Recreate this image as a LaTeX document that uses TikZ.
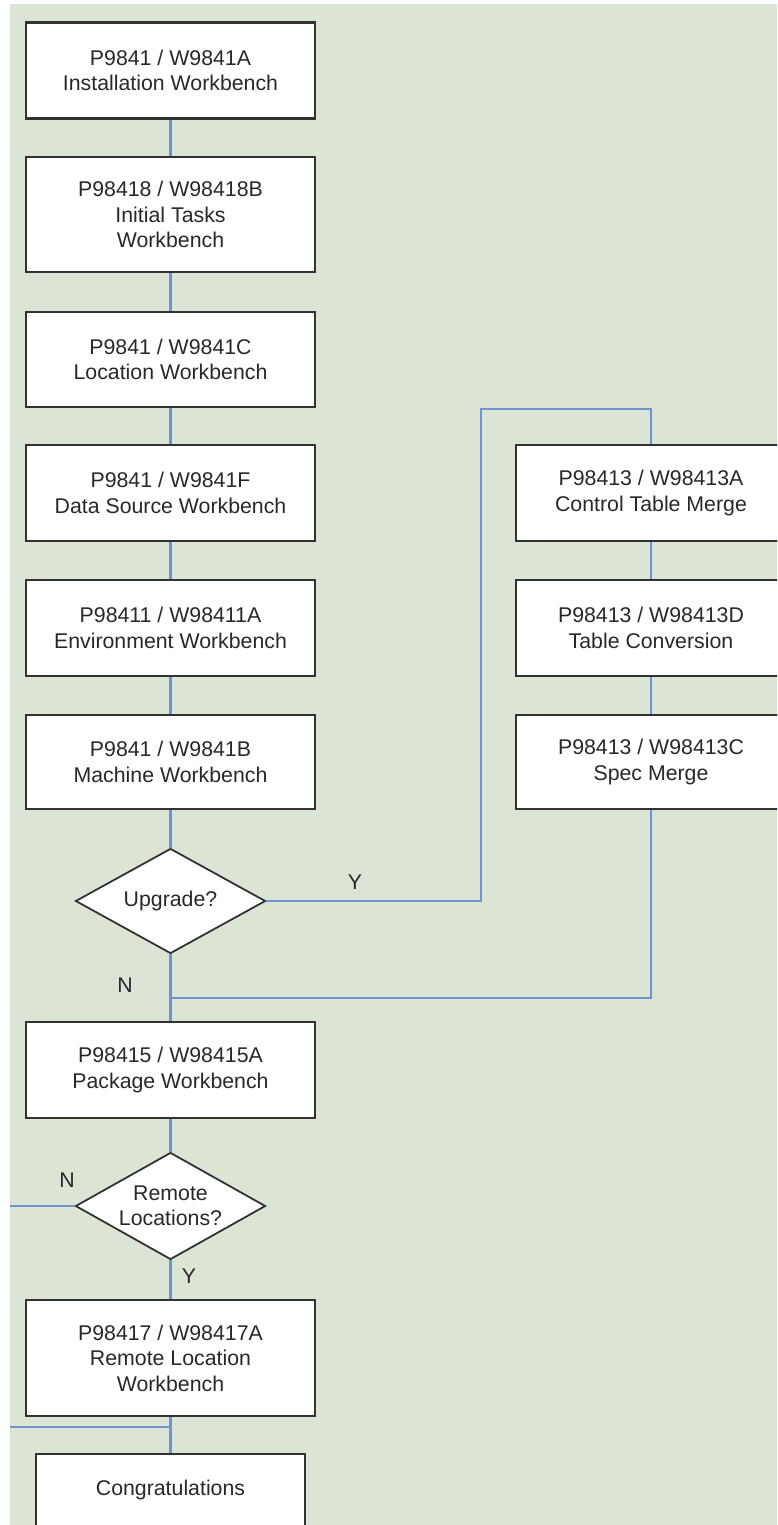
\documentclass[tikz,border=0pt]{standalone}
\usepackage{fontspec}
\setmainfont{Liberation Sans}
\usetikzlibrary{shapes.geometric}
\definecolor{bggreen}{RGB}{220,229,213}
\definecolor{linkblue}{RGB}{108,148,205}
\definecolor{txtgray}{RGB}{40,40,40}
\definecolor{bordergray}{RGB}{50,50,50}
\newcommand{\boxfont}{\fontsize{21.3}{25.5}\selectfont}
\tikzset{
  procbox/.style={draw=bordergray, line width=2.2pt, fill=white, minimum width=289pt,
    minimum height=96pt, align=center, text=txtgray, font=\boxfont, inner sep=0pt},
  rightbox/.style={procbox, minimum width=270pt},
  decision/.style={draw=bordergray, line width=1.8pt, fill=white, diamond,
    minimum width=190pt, minimum height=105pt, inner sep=0pt},
  dectext/.style={align=center, text=txtgray, font=\boxfont, inner sep=0pt},
  lbl/.style={text=txtgray, font=\boxfont, inner sep=0pt},
  link/.style={draw=linkblue, line width=2.5pt}
}
\begin{document}
\begin{tikzpicture}[x=1pt,y=-1pt]
\useasboundingbox (0,0) rectangle (777,1525);
\clip (0,0) rectangle (777,1525);
\fill[white] (0,0) rectangle (777,1525);
\fill[bggreen] (10,4) rectangle (777,1525);

% coordinates
\coordinate (c1) at (481,409);
\coordinate (m1) at (170.5,998);
\coordinate (e1) at (10,1206);
\coordinate (e2) at (10,1427);
\coordinate (j2) at (170.5,1427);

% left column
\node[procbox] (b1) at (170.5,70.5) {P9841 / W9841A\\Installation Workbench};
\node[procbox, minimum height=115pt] (b2) at (170.5,214.5) {P98418 / W98418B\\Initial Tasks\\Workbench};
\node[procbox, minimum height=95pt] (b3) at (170.5,359.5) {P9841 / W9841C\\Location Workbench};
\node[procbox] (b4) at (170.5,493) {P9841 / W9841F\\Data Source Workbench};
\node[procbox] (b5) at (170.5,628) {P98411 / W98411A\\Environment Workbench};
\node[procbox, minimum height=94pt] (b6) at (170.5,762) {P9841 / W9841B\\Machine Workbench};
\node[decision] (d1) at (170.5,901) {};
\node[dectext] (d1t) at (d1) {Upgrade?};
\node[procbox] (b7) at (170.5,1070) {P98415 / W98415A\\Package Workbench};
\node[decision, minimum height=107pt] (d2) at (170.5,1206) {};
\node[dectext] (d2t) at (d2) {Remote\\Locations?};
\node[procbox, minimum height=116pt] (b8) at (170.5,1358) {P98417 / W98417A\\Remote Location\\Workbench};
\node[procbox, minimum width=269pt, minimum height=72pt] (b9) at (170.5,1490) {Congratulations};

% right column
\node[rightbox] (r1) at (651,493) {P98413 / W98413A\\Control Table Merge};
\node[rightbox] (r2) at (651,628) {P98413 / W98413D\\Table Conversion};
\node[rightbox, minimum height=94pt] (r3) at (651,762) {P98413 / W98413C\\Spec Merge};

% connectors
\draw[link] (b1.south) -- (b2.north);
\draw[link] (b2.south) -- (b3.north);
\draw[link] (b3.south) -- (b4.north);
\draw[link] (b4.south) -- (b5.north);
\draw[link] (b5.south) -- (b6.north);
\draw[link] (b6.south) -- (d1.north);
\draw[link] (d1.east) -| (c1) -| (r1.north);
\draw[link] (r1.south) -- (r2.north);
\draw[link] (r2.south) -- (r3.north);
\draw[link] (r3.south) |- (m1);
\draw[link] (d1.south) -- (b7.north);
\draw[link] (b7.south) -- (d2.north);
\draw[link] (d2.west) -- (e1);
\draw[link] (d2.south) -- (b8.north);
\draw[link] (b8.south) -- (b9.north);
\draw[link] (e2) -- (j2);

% labels
\node[lbl] (ly1) at (355,882) {Y};
\node[lbl] (ln1) at (125,985) {N};
\node[lbl] (ln2) at (67,1180) {N};
\node[lbl] (ly2) at (189,1276) {Y};
\end{tikzpicture}
\end{document}
